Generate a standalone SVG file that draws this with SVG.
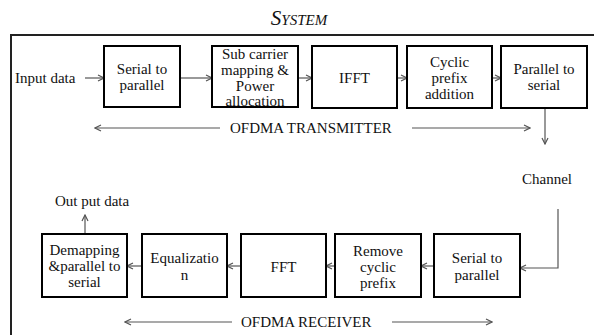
<svg xmlns="http://www.w3.org/2000/svg" width="594" height="335" viewBox="0 0 594 335">
<style>
text{font-family:"Liberation Serif","Times New Roman",serif;font-size:15px;fill:#111;text-anchor:middle}
.box{fill:#fff;stroke:#000;stroke-width:2}
.c{fill:none;stroke:#555;stroke-width:1.2}
.lab{text-anchor:start}
</style>
<defs>
<marker id="ah" viewBox="0 0 8 8" refX="7" refY="4" markerWidth="8" markerHeight="8" markerUnits="userSpaceOnUse" orient="auto">
<path d="M1,1 L7,4 L1,7" fill="none" stroke="#555" stroke-width="1.2"/>
</marker>
</defs>
<rect width="594" height="335" fill="#fff"/>
<text x="299" y="25" style="font-size:21px;font-style:italic;font-variant:small-caps">System</text>
<path d="M11,335 V35 H594" fill="none" stroke="#222" stroke-width="2"/>

<g id="connectors">
<path class="c" d="M85,78 H104" marker-end="url(#ah)"/>
<path class="c" d="M180,78 H212" marker-end="url(#ah)"/>
<path class="c" d="M298,78 H312" marker-end="url(#ah)"/>
<path class="c" d="M397,78 H407" marker-end="url(#ah)"/>
<path class="c" d="M492,78 H501" marker-end="url(#ah)"/>
<path class="c" d="M545,108 V144" marker-end="url(#ah)"/>
<path class="c" d="M558,209 V268 H520" marker-end="url(#ah)"/>
<path class="c" d="M434,266 H421" marker-end="url(#ah)"/>
<path class="c" d="M335,266 H326" marker-end="url(#ah)"/>
<path class="c" d="M241,266 H227" marker-end="url(#ah)"/>
<path class="c" d="M142,266 H127" marker-end="url(#ah)"/>
<path class="c" d="M85,234 V215" marker-end="url(#ah)"/>
<path class="c" d="M220,128 H95" marker-end="url(#ah)"/>
<path class="c" d="M412,128 H530" marker-end="url(#ah)"/>
<path class="c" d="M232,322 H125" marker-end="url(#ah)"/>
<path class="c" d="M392,322 H492" marker-end="url(#ah)"/>
</g>

<g id="labels">
<text class="lab" x="15" y="83">Input data</text>
<text class="lab" x="230" y="133">OFDMA TRANSMITTER</text>
<text class="lab" x="522" y="184">Channel</text>
<text class="lab" x="55" y="206">Out put data</text>
<text class="lab" x="241" y="327">OFDMA RECEIVER</text>
</g>

<g id="tx1"><rect class="box" x="104" y="46" width="76" height="61"/><text x="142" y="74">Serial to</text><text x="142" y="90">parallel</text></g>
<g id="tx2"><rect class="box" x="212" y="46" width="86" height="61"/><text x="255" y="59">Sub carrier</text><text x="255" y="75">mapping &amp;</text><text x="255" y="91">Power</text><text x="255" y="106">allocation</text></g>
<g id="tx3"><rect class="box" x="312" y="46" width="85" height="62"/><text x="354.5" y="83">IFFT</text></g>
<g id="tx4"><rect class="box" x="407" y="46" width="85" height="62"/><text x="449.5" y="67">Cyclic</text><text x="449.5" y="83">prefix</text><text x="449.5" y="99">addition</text></g>
<g id="tx5"><rect class="box" x="501" y="46" width="86" height="62"/><text x="544" y="74">Parallel to</text><text x="544" y="90">serial</text></g>

<g id="rx1"><rect class="box" x="434" y="234" width="86" height="63"/><text x="477" y="263">Serial to</text><text x="477" y="280">parallel</text></g>
<g id="rx2"><rect class="box" x="335" y="234" width="86" height="63"/><text x="378" y="256">Remove</text><text x="378" y="272">cyclic</text><text x="378" y="288">prefix</text></g>
<g id="rx3"><rect class="box" x="241" y="234" width="85" height="63"/><text x="283.5" y="272">FFT</text></g>
<g id="rx4"><rect class="box" x="142" y="234" width="85" height="63"/><text x="184.5" y="263">Equalizatio</text><text x="184.5" y="280">n</text></g>
<g id="rx5"><rect class="box" x="42" y="234" width="85" height="63"/><text x="84.5" y="255">Demapping</text><text x="84.5" y="271">&amp;parallel to</text><text x="84.5" y="287">serial</text></g>
</svg>
